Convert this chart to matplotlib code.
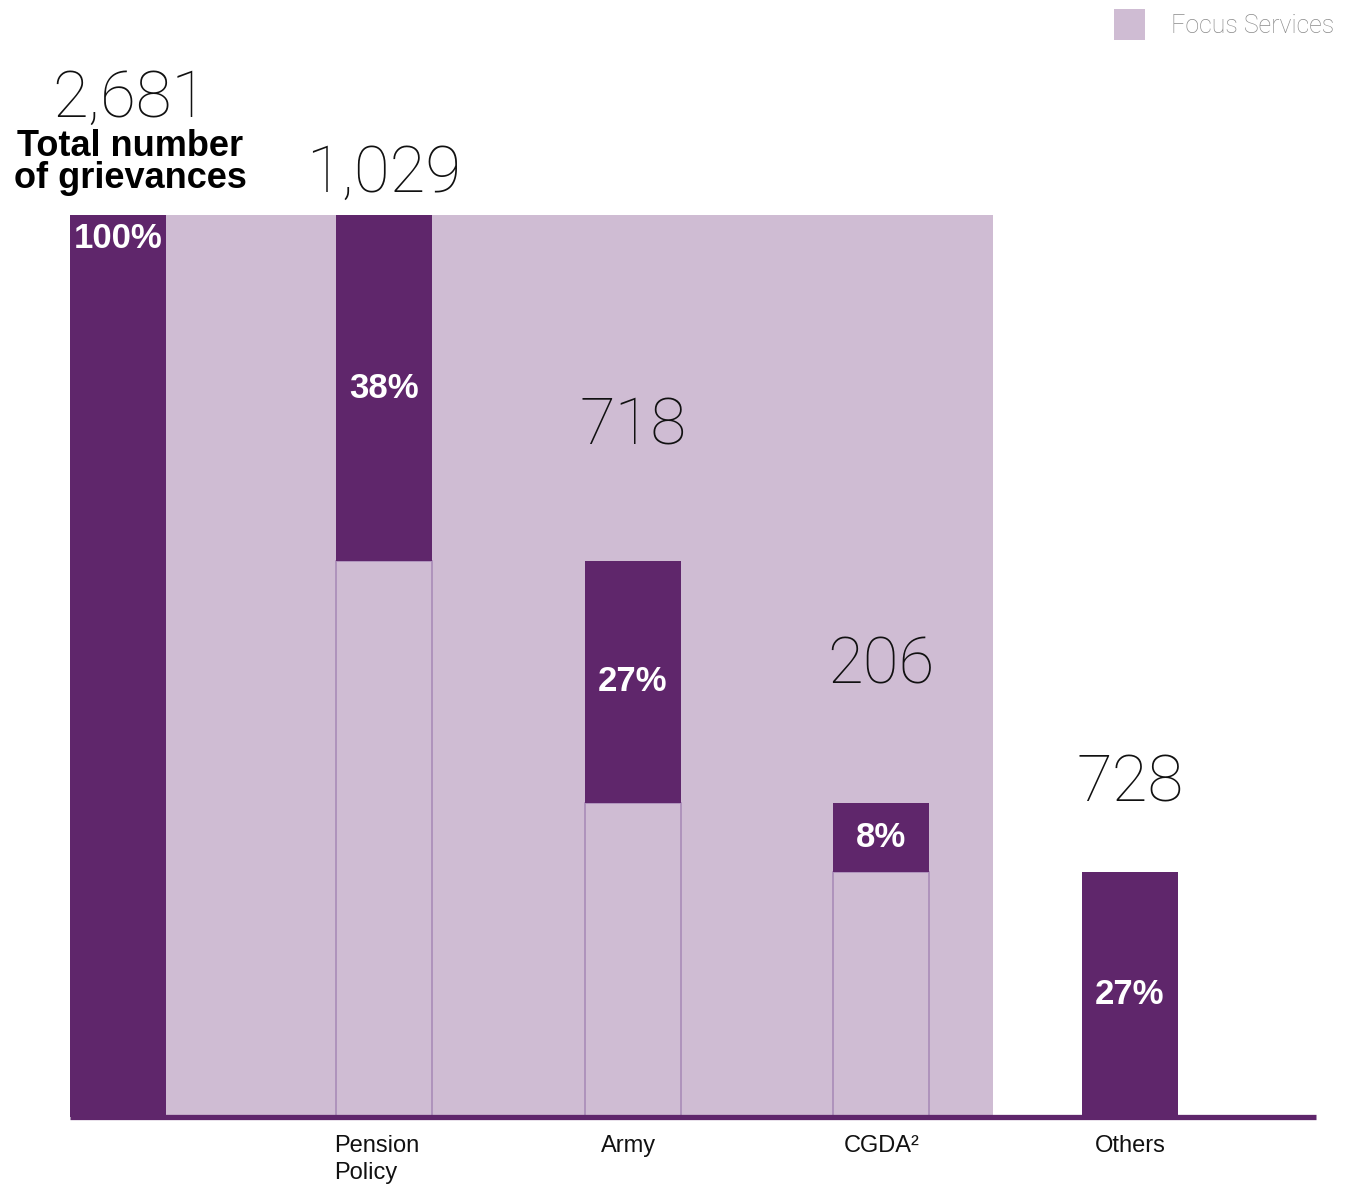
import numpy as np
import matplotlib
matplotlib.use("Agg")
import matplotlib.pyplot as plt
from matplotlib.patches import Rectangle

# data
categories = ["", "Pension\nPolicy", "Army", "CGDA²", "Others"]
values = [2681, 1029, 718, 206, 728]
total = values[0]

DARK = "#5F266B"
LIGHT = "#CFBCD3"
EDGE = "#A98BB8"
THIN = ["Roboto", "Lato", "DejaVu Sans"]
BOLD = ["Liberation Sans", "DejaVu Sans"]

fig = plt.figure(figsize=(13.51, 11.89), dpi=100)
ax = fig.add_axes([0, 0, 1, 1])
ax.set_xlim(-0.544, 4.889)
ax.set_ylim(-214, 3320)
ax.axis("off")

x = np.arange(len(values), dtype=float)
x[0] = -0.07
w = 0.386

# waterfall: bottoms of each dark segment
bottoms = [0]
remaining = total
for v in values[1:]:
    remaining -= v
    bottoms.append(remaining)

# focus services background
ax.add_patch(Rectangle((x[0] - w / 2, 0), 3.45 - (x[0] - w / 2), total,
                       facecolor=LIGHT, edgecolor="none", zorder=0))

# light outlined bars under the segments
for i in range(1, len(values)):
    if bottoms[i] > 0:
        ax.bar(x[i], bottoms[i], width=w, color=LIGHT, edgecolor=EDGE,
               linewidth=1.2, zorder=1)

ax.bar(x, values, width=w, bottom=bottoms, color=DARK, zorder=2)

# baseline
ax.plot([x[0] - w / 2, 4.75], [0, 0], color=DARK, lw=3.8,
        solid_capstyle="butt", zorder=3)

# value labels
label_offsets = [71, 17, 84, 86, 51]
for i, v in enumerate(values):
    top = bottoms[i] + v
    xx = x[i] + (0.05 if i == 0 else 0)
    ax.annotate(f"{v:,}", (xx, top), xytext=(0, label_offsets[i]),
                textcoords="offset points", ha="center", va="baseline",
                fontsize=47, fontweight=100, family=THIN, color="#111111")

ax.annotate("Total number\nof grievances", (x[0] + 0.05, total), xytext=(0, 38),
            textcoords="offset points", ha="center", va="center",
            fontsize=26, fontweight="bold", family=BOLD, color="black",
            linespacing=0.88)

# percent labels
for i, v in enumerate(values):
    pct = f"{round(v / total * 100)}%"
    if i == 0:
        ax.annotate(pct, (x[i], total), xytext=(0, -5), textcoords="offset points",
                    ha="center", va="top", fontsize=25, fontweight="bold",
                    family=BOLD, color="white", zorder=5)
    else:
        ax.text(x[i], bottoms[i] + v / 2, pct, ha="center", va="center",
                fontsize=25, fontweight="bold", family=BOLD, color="white",
                zorder=5)

# category labels
for i in range(1, len(values)):
    if "\n" in categories[i]:
        ax.annotate(categories[i], (x[i] - w / 2, 0), xytext=(-1, -13),
                    textcoords="offset points", ha="left", va="top",
                    fontsize=17, family=BOLD, color="#111111", linespacing=1.3)
    else:
        ax.annotate(categories[i], (x[i], 0), xytext=(-3 if i == 2 else 0, -13),
                    textcoords="offset points", ha="center", va="top",
                    fontsize=17, family=BOLD, color="#111111")

# legend
fig.add_artist(Rectangle((1114 / 1351, 1 - 40 / 1189), 31 / 1351, 31 / 1189,
                         transform=fig.transFigure, facecolor=LIGHT,
                         edgecolor="none"))
fig.text(1171 / 1351, 1 - 26 / 1189, "Focus Services", ha="left", va="center",
         fontsize=18, fontweight=200, family=THIN, color="#8a8a8a")

fig.savefig("out.png", dpi=100)
